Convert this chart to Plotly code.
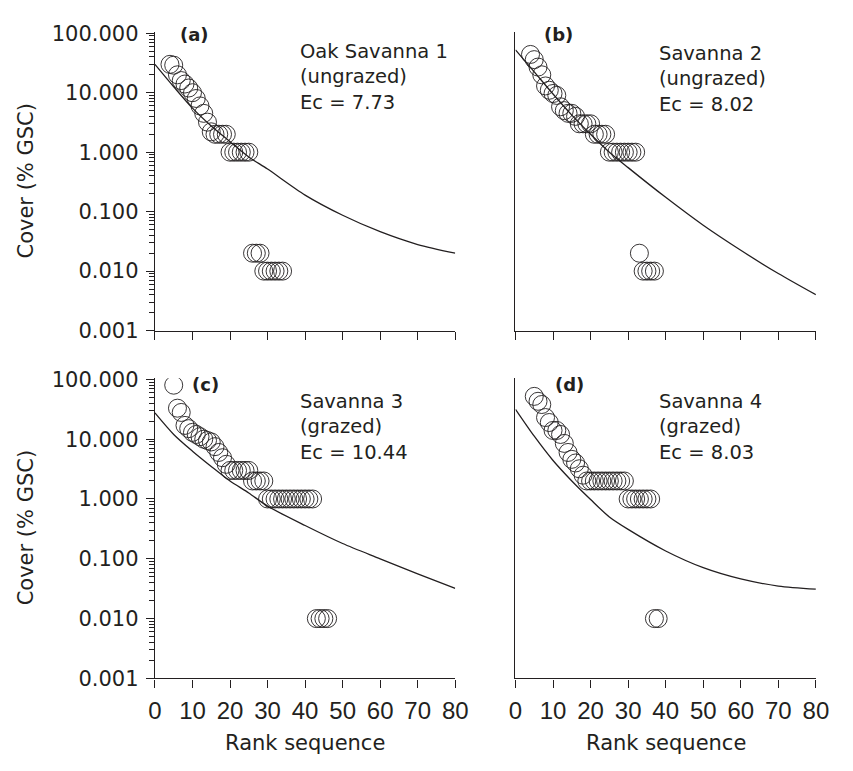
import plotly.graph_objects as go

# ---------------- data ----------------
rank_a = [4, 5, 6, 7, 8, 9, 10, 11, 12, 13, 14, 15, 16, 17, 18, 19, 20, 21, 22, 23, 24, 25,
          26, 27, 28, 29, 30, 31, 32, 33, 34]
cover_a = [30, 29, 20, 16, 14, 12, 10, 8, 6, 4.5, 3.2, 2.2, 2, 2, 2, 2, 1, 1, 1, 1, 1, 1,
           0.02, 0.02, 0.02, 0.01, 0.01, 0.01, 0.01, 0.01, 0.01]

rank_b = [4, 5, 6, 7, 8, 9, 10, 11, 12, 13, 14, 15, 16, 17, 18, 19, 20, 21, 22, 23, 24,
          25, 26, 27, 28, 29, 30, 31, 32, 33, 34, 35, 36, 37]
cover_b = [44, 36, 27, 20, 13, 11, 9.7, 9, 5.8, 5, 4.5, 4.5, 4, 3, 3, 3, 3, 2, 2, 2, 2,
           1, 1, 1, 1, 1, 1, 1, 1, 0.02, 0.01, 0.01, 0.01, 0.01]

rank_c = [5, 6, 7, 8, 9, 10, 11, 12, 13, 14, 15, 16, 17, 18, 19, 20, 21, 22, 23, 24, 25,
          26, 27, 28, 29, 30, 31, 32, 33, 34, 35, 36, 37, 38, 39, 40, 41, 42, 43, 44, 45, 46]
cover_c = [80, 33, 28, 17, 15, 13, 12, 11, 10, 9.5, 9, 7.5, 6, 4.9, 3.8, 3, 3, 3, 3, 3, 3,
           2, 2, 2, 2, 1, 1, 1, 1, 1, 1, 1, 1, 1, 1, 1, 1, 1, 0.01, 0.01, 0.01, 0.01]

rank_d = [5, 6, 7, 8, 9, 10, 11, 12, 13, 14, 15, 16, 17, 18, 19, 20, 21, 22, 23, 24, 25,
          26, 27, 28, 29, 30, 31, 32, 33, 34, 35, 36, 37, 38]
cover_d = [52, 43, 38, 23, 19, 14, 14, 12, 8.5, 6, 4.6, 4, 3.2, 2.5, 2, 2, 2, 2, 2, 2, 2,
           2, 2, 2, 2, 1, 1, 1, 1, 1, 1, 1, 0.01, 0.01]

fit_x = [0, 5, 10, 15, 20, 25, 30, 40, 50, 60, 70, 80]
fit_a = [30, 12.6, 5.5, 2.75, 1.5, 0.83, 0.52, 0.19, 0.087, 0.046, 0.028, 0.020]
fit_b = [52.5, 22.4, 9.5, 4.2, 2.0, 1.0, 0.55, 0.174, 0.059, 0.0224, 0.0091, 0.0040]
fit_c = [27.5, 12, 6.3, 3.5, 2.0, 1.26, 0.76, 0.36, 0.18, 0.10, 0.056, 0.032]
fit_d = [31.6, 11.2, 4.4, 2.0, 0.98, 0.5, 0.31, 0.135, 0.071, 0.046, 0.035, 0.031]

panel_tags = ["(a)", "(b)", "(c)", "(d)"]
panel_text = [["Oak Savanna 1", "(ungrazed)", "Ec = 7.73"],
              ["Savanna 2", "(ungrazed)", "Ec = 8.02"],
              ["Savanna 3", "(grazed)", "Ec = 10.44"],
              ["Savanna 4", "(grazed)", "Ec = 8.03"]]

y_tickvals = [0.001, 0.01, 0.1, 1, 10, 100]
y_ticktext = ["0.001", "0.010", "0.100", "1.000", "10.000", "100.000"]
x_tickvals = [0, 10, 20, 30, 40, 50, 60, 70, 80]
y_title = "Cover (% GSC)"
x_title = "Rank sequence"

# ---------------- layout geometry ----------------
W, H = 853, 771
INK = "#231f20"
SANS = "DejaVu Sans, Verdana, sans-serif"
HELV = "Liberation Sans, Arial, sans-serif"

x_dom = [[151.5 / W, 459 / W], [520.7 / W, 828.3 / W]]
y_dom = [[1 - 330 / H, 1 - 22.7 / H], [1 - 688 / H, 1 - 379 / H]]

minor_vals = [m * 10 ** e for e in range(-3, 2) for m in range(2, 10)]

fig = go.Figure()

panels = [
    (rank_a, cover_a, fit_a, 0, 0),
    (rank_b, cover_b, fit_b, 1, 0),
    (rank_c, cover_c, fit_c, 0, 1),
    (rank_d, cover_d, fit_d, 1, 1),
]

layout = dict(
    width=W, height=H, margin=dict(l=0, r=0, t=0, b=0),
    paper_bgcolor="white", plot_bgcolor="white", showlegend=False,
    font=dict(family=SANS, color=INK),
)

annotations = []
for i, (rx, cy, fy, col, row) in enumerate(panels):
    n = i + 1
    xa = "x" if n == 1 else f"x{n}"
    ya = "y" if n == 1 else f"y{n}"
    fig.add_trace(go.Scatter(x=fit_x, y=fy, mode="lines", xaxis=xa, yaxis=ya,
                             line=dict(color=INK, width=1.3, shape="spline", smoothing=0.8),
                             hoverinfo="skip"))
    fig.add_trace(go.Scatter(x=rx, y=cy, mode="markers", xaxis=xa, yaxis=ya,
                             marker=dict(symbol="circle-open", size=18,
                                         color=INK, line=dict(width=0.9, color=INK))))
    left = col == 0
    bottom = row == 1
    layout["xaxis" if n == 1 else f"xaxis{n}"] = dict(
        domain=x_dom[col], anchor=ya, range=[0, 80], tickvals=x_tickvals,
        showticklabels=bottom, ticks="outside", ticklen=8, tickwidth=1.2,
        tickcolor=INK, showline=True, linecolor=INK, linewidth=1.3,
        showgrid=False, zeroline=False, ticklabelstandoff=3,
        tickfont=dict(size=24, family=HELV, color=INK),
    )
    yd = dict(
        domain=y_dom[row], anchor=xa, type="log", range=[-3, 2.02],
        showline=True, linecolor=INK, linewidth=1.3,
        showgrid=False, zeroline=False,
    )
    if left:
        yd.update(tickvals=y_tickvals, ticktext=y_ticktext, ticks="outside",
                  ticklen=8, tickwidth=1.2, tickcolor=INK, ticklabelstandoff=3,
                  tickfont=dict(size=21, family=SANS, color=INK),
                  minor=dict(tickvals=minor_vals, ticks="outside", ticklen=5,
                             tickwidth=1, tickcolor=INK, showgrid=False))
    else:
        yd.update(showticklabels=False, ticks="")
    layout["yaxis" if n == 1 else f"yaxis{n}"] = yd

# axis titles as text placed at measured pixel positions
for cy_px in [176, 533]:
    annotations.append(dict(x=19 / W, y=1 - cy_px / H, xref="paper", yref="paper",
                            text=y_title, textangle=-90, showarrow=False,
                            xanchor="center", yanchor="middle",
                            font=dict(size=21, family=SANS, color=INK)))
for cx_px in [305, 674.5]:
    annotations.append(dict(x=cx_px / W, y=1 - 755 / H, xref="paper", yref="paper",
                            text=x_title, showarrow=False,
                            xanchor="center", yanchor="middle",
                            font=dict(size=21, family=SANS, color=INK)))

# panel tags and three-line panel texts
tag_pos = [(192, 25), (564.5, 25), (203.5, 385), (576, 385)]
text_pos = [(298, 69), (666, 71), (298, 429), (666, 429)]
for i in range(4):
    tx, ty = tag_pos[i]
    annotations.append(dict(x=tx / W, y=1 - ty / H, xref="paper", yref="paper",
                            text=f"<b>{panel_tags[i]}</b>", showarrow=False,
                            xanchor="center", yanchor="middle",
                            font=dict(size=18, family=SANS, color=INK)))
    px, py = text_pos[i]
    annotations.append(dict(x=px / W, y=1 - py / H, xref="paper", yref="paper",
                            text="<br>".join(panel_text[i]), showarrow=False,
                            xanchor="left", yanchor="middle", align="left",
                            font=dict(size=19.5, family=SANS, color=INK)))

layout["annotations"] = annotations
fig.update_layout(**layout)
fig.write_html("out.html")
